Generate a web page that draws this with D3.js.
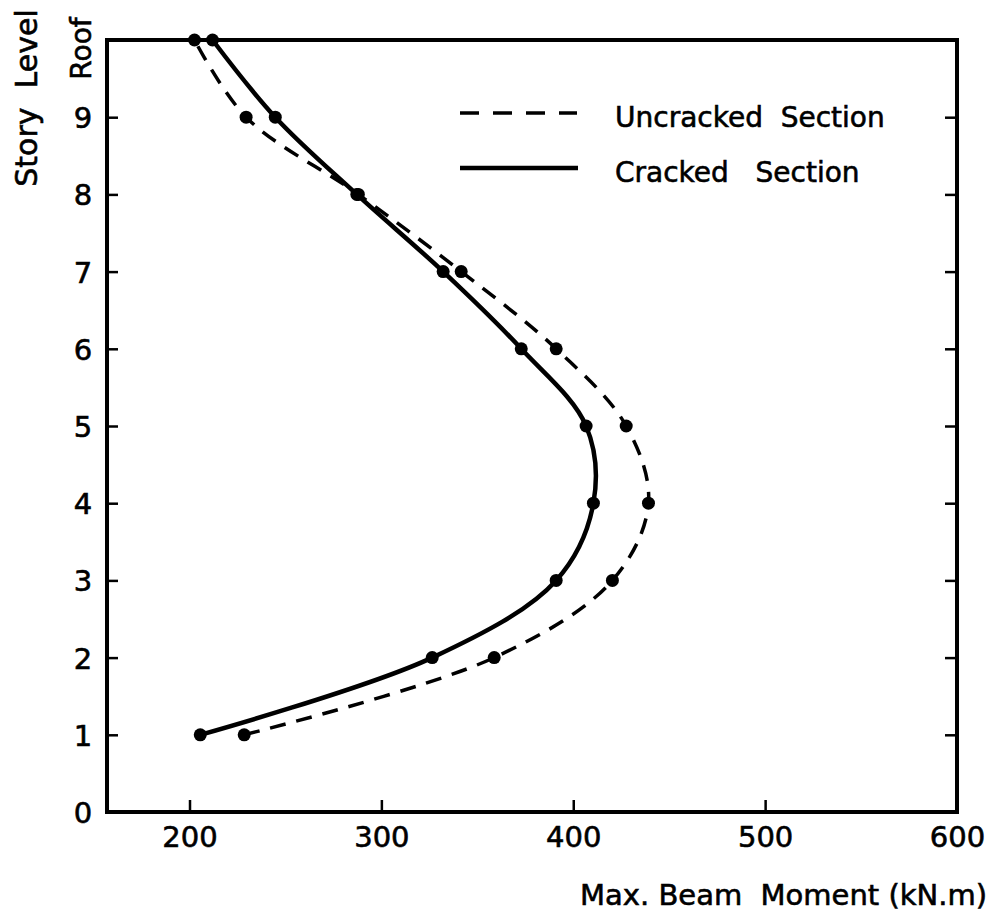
<!DOCTYPE html>
<html>
<head>
<meta charset="utf-8">
<script src="https://cdn.jsdelivr.net/npm/d3@7"></script>
<style>
  html, body { margin: 0; padding: 0; background: #fff; }
  svg text { font-family: "DejaVu Sans", sans-serif; fill: #000; stroke: #000; stroke-width: 0.6px; white-space: pre; }
</style>
</head>
<body>
<svg id="chart" width="993" height="912"></svg>
<script>
// ---- data ----
const storyLevels = [1, 2, 3, 4, 5, 6, 7, 8, 9, 10];
const crackedMoments   = [205.6, 326.5, 391.1, 410.5, 406.7, 372.9, 332.2, 287.2, 244.7, 212.0];
const uncrackedMoments = [228.5, 358.8, 420.4, 439.2, 427.6, 391.1, 341.6, 288.0, 229.5, 202.6];
const xTickValues = [200, 300, 400, 500, 600];
const yTickValues = [0, 1, 2, 3, 4, 5, 6, 7, 8, 9, 10];
const yTickLabels = ["0", "1", "2", "3", "4", "5", "6", "7", "8", "9", "Roof"];
const seriesNames = ["Uncracked  Section", "Cracked   Section"];
const xAxisTitle = "Max. Beam  Moment (kN.m)";
const yAxisTitle = "Story  Level";

// ---- layout ----
const svg = d3.select("#chart");
const pLeft = 107, pRight = 957, pTop = 40, pBottom = 812;
const x = d3.scaleLinear().domain([157, 600]).range([pLeft, pRight]);
const y = d3.scaleLinear().domain([0, 10]).range([pBottom, pTop]);

// frame
svg.append("rect")
  .attr("x", pLeft).attr("y", pTop)
  .attr("width", pRight - pLeft).attr("height", pBottom - pTop)
  .attr("fill", "none").attr("stroke", "#000").attr("stroke-width", 4);

// bottom ticks (inward) + labels
const xAxis = d3.axisBottom(x).tickValues(xTickValues).tickSizeInner(-12).tickSizeOuter(0);
const gx = svg.append("g").attr("transform", `translate(0,${pBottom})`).call(xAxis);
gx.select(".domain").remove();
gx.selectAll(".tick line").attr("stroke", "#000").attr("stroke-width", 2.5)
  .attr("display", d => d === 600 ? "none" : null);
gx.selectAll(".tick text").remove();
gx.selectAll(".tick").append("text")
  .attr("y", 14).attr("dy", "0.71em").attr("text-anchor", "middle")
  .attr("font-size", 29).text(d => d);

// left ticks (inward) + labels
const yAxis = d3.axisLeft(y).tickValues(yTickValues).tickSizeInner(-11).tickSizeOuter(0)
  .tickFormat((d, i) => yTickLabels[i]);
const gy = svg.append("g").attr("transform", `translate(${pLeft},0)`).call(yAxis);
gy.select(".domain").remove();
gy.selectAll(".tick line").attr("stroke", "#000").attr("stroke-width", 2.5)
  .attr("display", d => (d === 0 || d === 10) ? "none" : null);
gy.selectAll(".tick text").remove();
gy.selectAll(".tick").filter(d => d !== 10).append("text")
  .attr("x", -24).attr("dy", "0.36em").attr("text-anchor", "middle")
  .attr("font-size", 29).text(d => yTickLabels[d]);
// "Roof" label, rotated
gy.selectAll(".tick").filter(d => d === 10).append("text")
  .attr("transform", "translate(-16,8) rotate(-90)")
  .attr("text-anchor", "middle").attr("font-size", 28)
  .text(yTickLabels[10]);

// right ticks (inward)
const yAxisR = d3.axisRight(y).tickValues(yTickValues.filter(d => d > 0 && d < 10))
  .tickSizeInner(-12).tickSizeOuter(0).tickFormat("");
const gr = svg.append("g").attr("transform", `translate(${pRight},0)`).call(yAxisR);
gr.select(".domain").remove();
gr.selectAll(".tick line").attr("stroke", "#000").attr("stroke-width", 2.5);

// axis titles
svg.append("text").attr("x", 987).attr("y", 905).attr("text-anchor", "end")
  .attr("font-size", 29).text(xAxisTitle);
svg.append("text").attr("transform", "translate(37,98) rotate(-90)")
  .attr("text-anchor", "middle").attr("font-size", 30).text(yAxisTitle);

// series
const line = d3.line()
  .x(d => x(d[0])).y(d => y(d[1]))
  .curve(d3.curveCatmullRom.alpha(0.5));

const unc = storyLevels.map((l, i) => [uncrackedMoments[i], l]);
const cra = storyLevels.map((l, i) => [crackedMoments[i], l]);

svg.append("path").datum(unc).attr("d", line)
  .attr("fill", "none").attr("stroke", "#000").attr("stroke-width", 3.5)
  .attr("stroke-dasharray", "16,11");
svg.append("path").datum(cra).attr("d", line)
  .attr("fill", "none").attr("stroke", "#000").attr("stroke-width", 4.5);

svg.append("g").selectAll("circle").data(unc.concat(cra)).join("circle")
  .attr("cx", d => x(d[0])).attr("cy", d => y(d[1])).attr("r", 6.5).attr("fill", "#000");

// legend
const lg = svg.append("g");
lg.append("line").attr("x1", 460).attr("x2", 577).attr("y1", 113).attr("y2", 113)
  .attr("stroke", "#000").attr("stroke-width", 3.5).attr("stroke-dasharray", "19,14");
lg.append("line").attr("x1", 460).attr("x2", 578).attr("y1", 168).attr("y2", 168)
  .attr("stroke", "#000").attr("stroke-width", 4.5);
lg.append("text").attr("x", 615).attr("y", 127).attr("font-size", 28).text(seriesNames[0]);
lg.append("text").attr("x", 615).attr("y", 182).attr("font-size", 28).text(seriesNames[1]);
</script>
</body>
</html>
